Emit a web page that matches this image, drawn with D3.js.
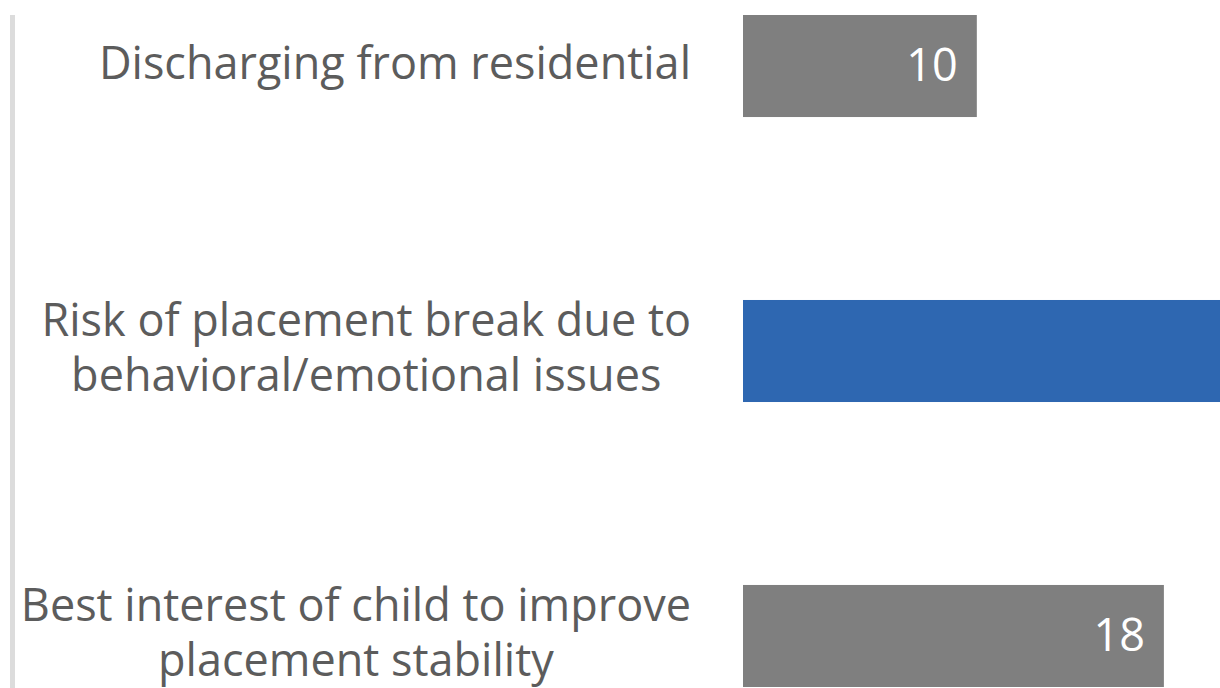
<!DOCTYPE html>
<html>
<head>
<meta charset="utf-8">
<script src="https://d3js.org/d3.v7.min.js"></script>
<style>
	html, body { margin: 0; padding: 0; background: #fff; overflow: hidden; }
	#chart-area text { font-family: "Open Sans", sans-serif; }
</style>
</head>
<body>
<div id="chart-area"></div>
<script>
// categories top to bottom, label lines as wrapped in the chart
const categories = ["Discharging", "Risk", "BestInterest"]
const labelLines = [
	["Discharging from residential"],
	["Risk of placement break due to", "behavioral/emotional issues"],
	["Best interest of child to improve", "placement stability"]
]
const values = [10, 25, 18]
const highlighted = [false, true, false]

const WIDTH = 1220
const HEIGHT = 688

const svg = d3.select("#chart-area").append("svg")
	.attr("width", WIDTH)
	.attr("height", HEIGHT)

const x = d3.scaleLinear()
	.domain([0, 20.4])
	.range([743, 1220])

const y = d3.scaleBand()
	.domain(categories)
	.range([15, 687])
	.paddingInner(0.642)
	.paddingOuter(0)

// axis line on the left
svg.append("rect")
	.attr("x", 10)
	.attr("y", y.range()[0])
	.attr("width", 5)
	.attr("height", HEIGHT - y.range()[0])
	.attr("fill", "#dcdcdc")

const data = categories.map((c, i) => ({cat: c, lines: labelLines[i], value: values[i], hi: highlighted[i]}))

// bars
svg.selectAll("rect.bar")
	.data(data)
	.enter().append("rect")
	.attr("class", "bar")
	.attr("x", x(0))
	.attr("y", d => y(d.cat))
	.attr("width", d => x(d.value) - x(0))
	.attr("height", y.bandwidth())
	.attr("fill", d => d.hi ? "#2e67b1" : "#7f7f7f")

// value labels inside the bar end (the long bar's label falls outside the crop)
svg.selectAll("text.value")
	.data(data.filter(d => x(d.value) - 19 <= WIDTH))
	.enter().append("text")
	.attr("class", "value")
	.attr("x", d => x(d.value) - 19)
	.attr("y", d => y(d.cat) + y.bandwidth() / 2 + 15)
	.attr("text-anchor", "end")
	.attr("font-size", "45px")
	.attr("fill", "#ffffff")
	.text(d => d.value)

// category labels: lines centred in a block right-aligned at the axis
const LABEL_RIGHT = 691
const LINE_H = 55
const CAP = 25

data.forEach(d => {
	const g = svg.append("g")
	const cy = y(d.cat) + y.bandwidth() / 2
	const n = d.lines.length
	const firstBase = cy + CAP / 2 - (n - 1) * LINE_H / 2
	const texts = d.lines.map((line, i) => g.append("text")
		.attr("y", firstBase + i * LINE_H)
		.attr("font-size", "45px")
		.attr("fill", "#5c5c5c")
		.attr("text-anchor", "middle")
		.text(line))
	const maxW = d3.max(texts, t => t.node().getComputedTextLength())
	texts.forEach(t => t.attr("x", LABEL_RIGHT - maxW / 2))
})
</script>
</body>
</html>
